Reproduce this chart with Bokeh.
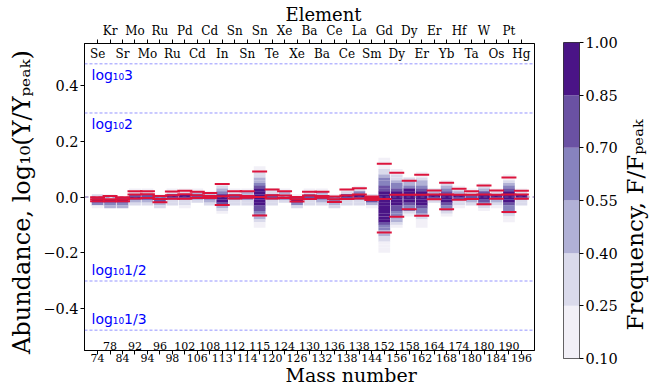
import math

from bokeh.core.properties import value
from bokeh.embed import file_html
from bokeh.layouts import column, row
from bokeh.models import (ColumnDataSource, FixedTicker, LinearAxis, LinearColorMapper,
                          NumeralTickFormatter, Range1d, Span, Title)
from bokeh.plotting import figure
from bokeh.resources import INLINE
from bokeh.transform import transform

# p-nuclei in the order they are laid out along the x axis
mass = [74, 78, 84, 92, 94, 96, 98, 102, 106, 108, 113, 112, 114, 115, 120, 124, 126,
        130, 132, 136, 138, 138, 144, 152, 156, 158, 162, 164, 168, 174, 180, 180, 184,
        190, 196]
element = ["Se", "Kr", "Sr", "Mo", "Mo", "Ru", "Ru", "Pd", "Cd", "Cd", "In", "Sn", "Sn",
           "Sn", "Te", "Xe", "Xe", "Ba", "Ba", "Ce", "Ce", "La", "Sm", "Gd", "Dy", "Dy",
           "Er", "Er", "Yb", "Hf", "Ta", "W", "Os", "Pt", "Hg"]

# log10(Y/Y_peak) marked in red: upper, central and lower value per isotope
red_hi = [-0.001, 0.004, -0.001, 0.021, 0.021, 0.004, 0.020, 0.022, 0.019, 0.014, 0.047,
          0.021, 0.021, 0.091, 0.027, 0.021, 0.000, 0.019, 0.019, 0.002, 0.027, 0.031,
          0.002, 0.119, 0.087, 0.058, 0.080, 0.023, 0.051, 0.030, 0.021, 0.041, 0.023,
          0.070, 0.022]
red_mid = [-0.008, -0.008, -0.008, 0.009, 0.010, -0.007, 0.006, 0.010, 0.006, 0.004, 0.003,
           0.006, 0.004, 0.000, 0.006, 0.005, -0.008, 0.005, 0.004, -0.008, 0.005, 0.009,
           -0.004, -0.007, 0.008, 0.008, 0.008, 0.009, 0.009, 0.008, 0.008, 0.009, 0.008,
           0.009, 0.009]
red_lo = [-0.015, -0.015, -0.015, -0.005, -0.004, -0.019, -0.006, -0.006, -0.004, -0.004,
          -0.029, -0.005, -0.003, -0.066, -0.005, -0.004, -0.016, -0.007, -0.003, -0.018,
          -0.007, -0.005, -0.011, -0.127, -0.071, -0.044, -0.067, -0.008, -0.044, -0.010,
          -0.007, -0.026, -0.006, -0.054, -0.006]

# Frequency histograms F/F_peak of log10(Y/Y_peak): upper edge of the first bin,
# then one value per bin going downwards
bin_width = 0.01
hist_top = [0.01, 0.01, 0.00, 0.03, 0.03, 0.01, 0.03, 0.03, 0.03, 0.02, 0.05, 0.03, 0.03,
            0.11, 0.03, 0.03, 0.01, 0.03, 0.03, 0.01, 0.03, 0.04, 0.01, 0.14, 0.10, 0.07,
            0.09, 0.03, 0.06, 0.04, 0.03, 0.05, 0.03, 0.08, 0.03]
hist_freq = [
    [0.30, 0.80, 0.95, 0.62, 0.20],                                   # 74Se
    [0.20, 0.35, 0.85, 0.62, 0.45],                                   # 78Kr
    [0.75, 0.90, 0.60, 0.45],                                         # 84Sr
    [0.18, 0.30, 0.80, 0.88, 0.45, 0.30],                             # 92Mo
    [0.18, 0.32, 0.82, 0.90, 0.50, 0.30],                             # 94Mo
    [0.20, 0.62, 0.78, 0.48, 0.30],                                   # 96Ru
    [0.15, 0.30, 0.90, 0.80, 0.35, 0.28],                             # 98Ru
    [0.18, 0.33, 0.90, 0.80, 0.35, 0.30, 0.18],                       # 102Pd
    [0.15, 0.45, 0.78, 0.62, 0.30],                                   # 106Cd
    [0.20, 0.48, 0.80, 0.45, 0.30],                                   # 108Cd
    [0.20, 0.33, 0.48, 0.62, 0.90, 0.95, 0.88, 0.75, 0.45, 0.30, 0.18],  # 113In
    [0.18, 0.30, 0.80, 0.78, 0.33, 0.28],                             # 112Sn
    [0.18, 0.45, 0.50, 0.80, 0.33, 0.28],                             # 114Sn
    [0.17, 0.22, 0.30, 0.35, 0.45, 0.50, 0.62, 0.78, 0.90, 0.95, 1.00, 0.97, 0.92,
     0.88, 0.80, 0.75, 0.65, 0.60, 0.48, 0.32, 0.20, 0.15],          # 115Sn
    [0.30, 0.33, 0.78, 0.80, 0.33, 0.28],                             # 120Te
    [0.20, 0.48, 0.50, 0.80, 0.30],                                   # 124Xe
    [0.20, 0.80, 0.90, 0.62, 0.30],                                   # 126Xe
    [0.17, 0.32, 0.80, 0.78, 0.30, 0.28],                             # 130Ba
    [0.17, 0.45, 0.50, 0.80, 0.45, 0.30],                             # 132Ba
    [0.20, 0.62, 0.65, 0.48, 0.30],                                   # 136Ce
    [0.20, 0.33, 0.92, 0.80, 0.32, 0.28],                             # 138Ce
    [0.18, 0.32, 0.62, 0.90, 0.78, 0.33, 0.28],                       # 138La
    [0.30, 0.90, 0.78, 0.50, 0.20],                                   # 144Sm
    [0.15, 0.18, 0.20, 0.23, 0.30, 0.36, 0.48, 0.58, 0.63, 0.68, 0.75, 0.82, 0.88,
     0.93, 0.97, 1.00, 0.99, 0.97, 0.95, 0.93, 0.91, 0.89, 0.87, 0.80, 0.66, 0.58,
     0.50, 0.43, 0.35, 0.28, 0.23, 0.20, 0.16, 0.12],                # 152Gd
    [0.17, 0.22, 0.30, 0.37, 0.48, 0.60, 0.67, 0.80, 0.90, 0.97, 1.00, 0.95, 0.88,
     0.82, 0.75, 0.67, 0.60, 0.50, 0.43, 0.30, 0.18],                # 156Dy
    [0.35, 0.45, 0.52, 0.65, 0.88, 0.95, 1.00, 0.96, 0.90, 0.78, 0.65, 0.58, 0.33,
     0.18],                                                           # 158Dy
    [0.17, 0.22, 0.33, 0.45, 0.52, 0.65, 0.78, 0.90, 0.97, 1.00, 0.95, 0.88, 0.80,
     0.67, 0.58, 0.45, 0.32, 0.22, 0.18, 0.13],                      # 162Er
    [0.30, 0.45, 0.90, 0.78, 0.30],                                   # 164Er
    [0.20, 0.33, 0.48, 0.62, 0.80, 0.92, 0.95, 0.90, 0.78, 0.62, 0.50, 0.33, 0.18],  # 168Yb
    [0.20, 0.33, 0.45, 0.88, 0.78, 0.33, 0.30, 0.18],                 # 174Hf
    [0.18, 0.33, 0.78, 0.80, 0.45, 0.30],                             # 180Ta
    [0.20, 0.35, 0.48, 0.80, 0.90, 0.88, 0.78, 0.60, 0.32, 0.20],     # 180W
    [0.18, 0.33, 0.88, 0.78, 0.45, 0.30, 0.18],                       # 184Os
    [0.17, 0.22, 0.33, 0.48, 0.62, 0.78, 0.90, 0.97, 1.00, 0.92, 0.78, 0.65, 0.58,
     0.45, 0.32, 0.20, 0.15],                                         # 190Pt
    [0.20, 0.33, 0.88, 0.78, 0.33, 0.28],                             # 196Hg
]

# Colour bands of the frequency scale
freq_bounds = [0.10, 0.25, 0.40, 0.55, 0.70, 0.85, 1.00]
purples = ["#f2f0f7", "#dadaeb", "#b1b1d6", "#8783be", "#6a51a3", "#4a1486"]

# Reference abundance factors drawn as dashed lines
ref_factors = [3, 2, 1 / 2, 1 / 3]
ref_names = ["log₁₀3", "log₁₀2", "log₁₀1/2", "log₁₀1/3"]

y_ticks = [-0.4, -0.2, 0.0, 0.2, 0.4]

SERIF = "DejaVu Serif"
X_LO, X_HI = -1.05, 35.05
Y_LO, Y_HI = -0.55, 0.55

idx = list(range(len(mass)))
even = [i for i in idx if i % 2 == 0]
odd = [i for i in idx if i % 2 == 1]

# ---- histogram cells -------------------------------------------------------
cx, cy, cf = [], [], []
for i, (top, freqs) in enumerate(zip(hist_top, hist_freq)):
    for k, f in enumerate(freqs):
        cx.append(i)
        cy.append(top - bin_width * (k + 0.5))
        cf.append(f)
cells = ColumnDataSource(dict(x=cx, y=cy, f=cf))

mapper = LinearColorMapper(palette=purples, low=freq_bounds[0], high=freq_bounds[-1])

p = figure(width=545, height=388, x_range=Range1d(X_LO, X_HI), y_range=Range1d(Y_LO, Y_HI),
           output_backend="svg", toolbar_location=None, title_location=None,
           min_border_left=84, min_border_right=11, min_border_top=43, min_border_bottom=38)
p.grid.visible = False
p.outline_line_color = "black"
p.outline_line_width = 1

p.rect(x="x", y="y", width=0.94, height=bin_width * 1.04, source=cells,
       fill_color=transform("f", mapper), line_color=None)

# zero line
p.segment(x0=[X_LO], x1=[X_HI], y0=[0], y1=[0], line_color="#6a51a3", line_width=1.2,
          line_dash="4 3", line_alpha=0.9)

# red markers
half = 0.6
for vals in (red_hi, red_mid, red_lo):
    p.segment(x0=[i - half for i in idx], x1=[i + half for i in idx], y0=vals, y1=vals,
              line_color="crimson", line_width=2)

# reference factor lines and their labels
ref_y = [math.log10(r) for r in ref_factors]
for yv in ref_y:
    p.add_layout(Span(location=yv, dimension="width", line_color="#4d4dff", line_alpha=0.75,
                      line_width=0.8, line_dash="3 2"))
up = [k for k, yv in enumerate(ref_y) if yv > 0]
dn = [k for k, yv in enumerate(ref_y) if yv < 0]
p.text(x=[X_LO] * len(up), y=[ref_y[k] for k in up], text=[ref_names[k] for k in up],
       x_offset=7, y_offset=3, text_baseline="top", text_align="left", text_color="blue",
       text_font=value("DejaVu Sans"), text_font_size="14px")
p.text(x=[X_LO] * len(dn), y=[ref_y[k] for k in dn], text=[ref_names[k] for k in dn],
       x_offset=7, y_offset=-3, text_baseline="bottom", text_align="left", text_color="blue",
       text_font=value("DejaVu Sans"), text_font_size="14px")

# inner rows of tick labels
p.text(x=even, y=[Y_HI] * len(even), text=[element[i] for i in even], y_offset=3,
       text_align="center", text_baseline="top", text_color="black",
       text_font=value(SERIF), text_font_size="12px")
p.text(x=odd, y=[Y_LO] * len(odd), text=[str(mass[i]) for i in odd], y_offset=-4.5,
       text_align="center", text_baseline="alphabetic", text_color="black",
       text_font=value(SERIF), text_font_size="11px")


def style_axis(ax):
    ax.axis_line_color = "black"
    ax.major_tick_out = 4
    ax.major_tick_in = 0
    ax.minor_tick_out = 0
    ax.minor_tick_in = 0
    ax.major_tick_line_color = "black"
    ax.major_label_text_font = SERIF
    ax.major_label_text_color = "black"


def axis_title(text, size, **kw):
    return Title(text=text, align="left", text_font=SERIF, text_font_size=size,
                 text_font_style="normal", text_color="black", **kw)


xa = p.xaxis[0]
style_axis(xa)
xa.ticker = FixedTicker(ticks=idx)
xa.major_label_overrides = {i: (str(mass[i]) if i % 2 == 0 else "") for i in idx}
xa.major_label_text_font_size = "11px"
xa.major_label_standoff = -1

ta = LinearAxis(ticker=FixedTicker(ticks=idx),
                major_label_overrides={i: (element[i] if i % 2 == 1 else "") for i in idx})
style_axis(ta)
ta.major_label_text_font_size = "12px"
ta.major_label_standoff = 2
p.add_layout(ta, "above")

ya = p.yaxis[0]
style_axis(ya)
ya.ticker = FixedTicker(ticks=y_ticks)
ya.major_label_overrides = {t: f"{t:.1f}".replace("-", "−") for t in y_ticks}
ya.major_label_text_font_size = "14.5px"
ya.major_label_standoff = 2

# axis titles
p.add_layout(axis_title("Mass number", "19px", offset=201, standoff=-5), "below")
p.add_layout(axis_title("Element", "18px", offset=201, standoff=-8), "above")
p.add_layout(axis_title("Abundance, log₁₀(Y/Yₚₑₐₖ)", "24px", offset=-3.5, standoff=9), "left")

# ---- colour bar ---------------------------------------------------------------
bands = ColumnDataSource(dict(bottom=freq_bounds[:-1], top=freq_bounds[1:],
                              mid=[(a + b) / 2 for a, b in zip(freq_bounds[:-1], freq_bounds[1:])]))
cb = figure(width=77, height=388, x_range=Range1d(0, 1),
            y_range=Range1d(freq_bounds[0], freq_bounds[-1]),
            x_axis_location=None, y_axis_location="right", title_location=None,
            output_backend="svg", toolbar_location=None,
            min_border_left=18, min_border_right=43, min_border_top=42, min_border_bottom=30)
cb.grid.visible = False
cb.outline_line_color = "#333333"
cb.outline_line_width = 1
cb.quad(left=0, right=1, bottom="bottom", top="top", source=bands,
        fill_color=transform("mid", mapper), line_color=None)
cya = cb.yaxis[0]
style_axis(cya)
cya.axis_line_color = None
cya.ticker = FixedTicker(ticks=freq_bounds)
cya.formatter = NumeralTickFormatter(format="0.00")
cya.major_label_text_font_size = "14.5px"
cya.major_label_standoff = 2

# strip to the right of the colour bar carrying its rotated title (pixel coordinates)
lab = figure(width=41, height=388, x_range=Range1d(0, 41), y_range=Range1d(0, 388),
             x_axis_location=None, y_axis_location=None, title_location=None,
             output_backend="svg", toolbar_location=None, min_border=0)
lab.grid.visible = False
lab.outline_line_color = None
lab.text(x=[12], y=[58], text=["Frequency, F/Fₚₑₐₖ"], angle=math.pi / 2,
         text_align="left", text_baseline="alphabetic", text_color="black",
         text_font=value(SERIF), text_font_size="23px")

layout = row(p, column(cb), column(lab))
open("out.html", "w").write(file_html(layout, INLINE))
